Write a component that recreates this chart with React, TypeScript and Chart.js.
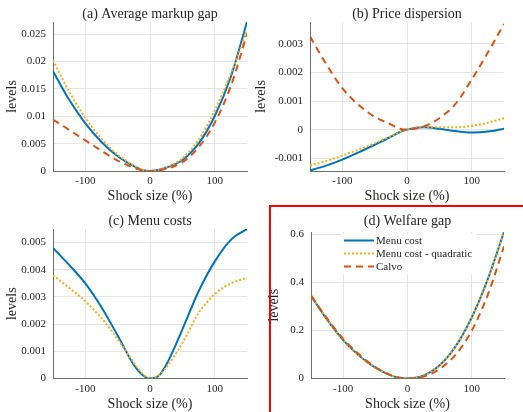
import React, { useEffect, useRef } from "react";
import { Chart, registerables } from "chart.js";

Chart.register(...registerables);

// ---------- data ----------
const shockSizes = [-150, -125, -100, -75, -50, -25, -12.5, 0, 12.5, 25, 50, 75, 100, 125, 150];
const xTicks = [-100, 0, 100];
const xTickLabels = ["-100", "0", "100"];

const seriesNames = ["Menu cost", "Menu cost - quadratic", "Calvo"];

// (a) Average markup gap
const markupMenuCost = [0.0182, 0.013, 0.0087, 0.0053, 0.0027, 0.0009, 0.0002, 0, 0.0002, 0.0006, 0.002, 0.005, 0.01, 0.0172, 0.0272];
const markupQuadratic = [0.0202, 0.0145, 0.0097, 0.0059, 0.003, 0.001, 0.00025, 0, 0.0002, 0.0007, 0.0023, 0.0057, 0.011, 0.0178, 0.0256];
const markupCalvo = [0.0094, 0.0075, 0.0056, 0.0037, 0.0019, 0.0006, 0.00015, 0, 0.0001, 0.0004, 0.0016, 0.0043, 0.0088, 0.0155, 0.025];
const markupTicks = [0, 0.005, 0.01, 0.015, 0.02, 0.025];
const markupTickLabels = ["0", "0.005", "0.01", "0.015", "0.02", "0.025"];

// (b) Price dispersion
const dispersionMenuCost = [-0.00143, -0.00126, -0.00105, -0.0008, -0.00053, -0.00025, -0.0001, 0, 0.00006, 0.00008, 0.00003, -0.00005, -0.0001, -0.00007, 0.00003];
const dispersionQuadratic = [-0.00126, -0.0011, -0.00091, -0.0007, -0.00048, -0.00023, -0.0001, 0, 0.00007, 0.0001, 0.00008, 0.00008, 0.00013, 0.00024, 0.0004];
const dispersionCalvo = [0.00326, 0.0023, 0.00145, 0.00087, 0.00045, 0.00018, 0.00004, 0, 0.00003, 0.0001, 0.0004, 0.0009, 0.00175, 0.0027, 0.0037];
const dispersionTicks = [-0.001, 0, 0.001, 0.002, 0.003];
const dispersionTickLabels = ["-0.001", "0", "0.001", "0.002", "0.003"];

// (c) Menu costs
const menuCostsMenuCost = [0.0048, 0.00418, 0.0035, 0.00262, 0.00158, 0.0005, 0.00015, 0, 0.00008, 0.0005, 0.0018, 0.0032, 0.0043, 0.0051, 0.0055];
const menuCostsQuadratic = [0.0038, 0.00334, 0.00284, 0.00222, 0.00145, 0.00058, 0.0002, 0, 0.0001, 0.0004, 0.0013, 0.0024, 0.0031, 0.0035, 0.0037];
const menuCostsTicks = [0, 0.001, 0.002, 0.003, 0.004, 0.005];
const menuCostsTickLabels = ["0", "0.001", "0.002", "0.003", "0.004", "0.005"];

// (d) Welfare gap
const welfareMenuCost = [0.345, 0.245, 0.16, 0.095, 0.045, 0.012, 0.003, 0, 0.003, 0.012, 0.055, 0.135, 0.255, 0.415, 0.61];
const welfareQuadratic = [0.345, 0.245, 0.16, 0.095, 0.045, 0.012, 0.003, 0, 0.003, 0.012, 0.055, 0.135, 0.255, 0.415, 0.61];
const welfareCalvo = [0.345, 0.25, 0.165, 0.1, 0.048, 0.013, 0.003, 0, 0.002, 0.008, 0.04, 0.1, 0.2, 0.35, 0.55];
const welfareTicks = [0, 0.2, 0.4, 0.6];
const welfareTickLabels = ["0", "0.2", "0.4", "0.6"];

// ---------- styles ----------
const FONT = "'Liberation Serif', 'Times New Roman', serif";
const TEXT = "#262626";
const GRID = "#e4e4e4";
const AXIS = "#6e6e6e";
const BLUE = "#0072BD";
const YELLOW = "#EDB120";
const RED = "#D95319";

type Series = { label: string; values: number[]; color: string; dash: number[]; order: number };
type Spec = {
  title: string;
  left: number;
  top: number;
  w: number;
  h: number;
  area: { left: number; right: number; top: number; bottom: number };
  titleCenter: number;
  yTitleCenter: number;
  xTitleCenter: number;
  yMin: number;
  yMax: number;
  yTicks: number[];
  yTickLabels: string[];
  series: Series[];
};

const blue = (values: number[]): Series => ({ label: seriesNames[0], values, color: BLUE, dash: [], order: 3 });
const yellow = (values: number[]): Series => ({ label: seriesNames[1], values, color: YELLOW, dash: [2, 2], order: 2 });
const red = (values: number[]): Series => ({ label: seriesNames[2], values, color: RED, dash: [7, 5], order: 1 });

const panels: Spec[] = [
  {
    title: "(a) Average markup gap",
    left: 0, top: 0, w: 262, h: 205,
    area: { left: 53, right: 247, top: 22, bottom: 171 },
    titleCenter: 14, yTitleCenter: 12, xTitleCenter: 196,
    yMin: 0, yMax: 0.0272, yTicks: markupTicks, yTickLabels: markupTickLabels,
    series: [blue(markupMenuCost), yellow(markupQuadratic), red(markupCalvo)],
  },
  {
    title: "(b) Price dispersion",
    left: 250, top: 0, w: 273, h: 205,
    area: { left: 60, right: 254, top: 22, bottom: 171 },
    titleCenter: 14, yTitleCenter: 11.5, xTitleCenter: 196,
    yMin: -0.00145, yMax: 0.00377, yTicks: dispersionTicks, yTickLabels: dispersionTickLabels,
    series: [blue(dispersionMenuCost), yellow(dispersionQuadratic), red(dispersionCalvo)],
  },
  {
    title: "(c) Menu costs",
    left: 0, top: 205, w: 262, h: 207,
    area: { left: 53, right: 247, top: 24, bottom: 173.5 },
    titleCenter: 16, yTitleCenter: 12, xTitleCenter: 199,
    yMin: 0, yMax: 0.0055, yTicks: menuCostsTicks, yTickLabels: menuCostsTickLabels,
    series: [blue(menuCostsMenuCost), yellow(menuCostsQuadratic)],
  },
  {
    title: "(d) Welfare gap",
    left: 262, top: 205, w: 261, h: 207,
    area: { left: 49, right: 242, top: 27, bottom: 173.5 },
    titleCenter: 16.7, yTitleCenter: 12, xTitleCenter: 199,
    yMin: 0, yMax: 0.61, yTicks: welfareTicks, yTickLabels: welfareTickLabels,
    series: [blue(welfareMenuCost), yellow(welfareQuadratic), red(welfareCalvo)],
  },
];

function Panel({ spec }: { spec: Spec }) {
  const ref = useRef<HTMLCanvasElement | null>(null);
  useEffect(() => {
    if (!ref.current) return;
    const s = spec;
    const titlePadTop = s.titleCenter - 7;
    const titlePadBottom = Math.max(0, s.area.top - titlePadTop - 14);
    const chart = new Chart(ref.current, {
      type: "line",
      data: {
        datasets: s.series.map((se) => ({
          label: se.label,
          data: shockSizes.map((x, i) => ({ x, y: se.values[i] })),
          borderColor: se.color,
          backgroundColor: se.color,
          borderWidth: 2,
          borderDash: se.dash,
          borderCapStyle: "butt",
          pointRadius: 0,
          pointHoverRadius: 0,
          cubicInterpolationMode: "monotone",
          fill: false,
          order: se.order,
        })),
      },
      options: {
        responsive: false,
        animation: false,
        devicePixelRatio: 1,
        events: [],
        layout: { padding: { left: 0, top: 0, bottom: 0, right: s.w - s.area.right } },
        plugins: {
          legend: { display: false },
          tooltip: { enabled: false },
          title: {
            display: true,
            text: s.title,
            fullSize: false,
            color: TEXT,
            font: { family: FONT, size: 14, weight: "normal", lineHeight: 1 },
            padding: { top: titlePadTop, bottom: titlePadBottom },
          },
        },
        scales: {
          x: {
            type: "linear",
            min: -150,
            max: 150,
            afterBuildTicks: (sc: any) => {
              sc.ticks = xTicks.map((v) => ({ value: v }));
            },
            afterFit: (sc: any) => {
              sc.height = s.h - s.area.bottom;
            },
            ticks: {
              autoSkip: false,
              maxRotation: 0,
              padding: 4,
              color: TEXT,
              font: { family: FONT, size: 11 },
              callback: (v: any) => {
                const i = xTicks.indexOf(Number(v));
                return i >= 0 ? xTickLabels[i] : "";
              },
            },
            grid: { color: GRID, drawTicks: false, lineWidth: 1 },
            border: { display: true, color: AXIS, width: 1 },
            title: {
              display: true,
              text: "Shock size (%)",
              color: TEXT,
              font: { family: FONT, size: 14, lineHeight: 1 },
              padding: { top: 0, bottom: s.h - s.xTitleCenter - 7 },
            },
          },
          y: {
            type: "linear",
            min: s.yMin,
            max: s.yMax,
            afterBuildTicks: (sc: any) => {
              sc.ticks = s.yTicks.map((v) => ({ value: v }));
            },
            afterFit: (sc: any) => {
              sc.width = s.area.left;
            },
            ticks: {
              autoSkip: false,
              padding: 7,
              color: TEXT,
              font: { family: FONT, size: 11 },
              callback: (v: any) => {
                const i = s.yTicks.indexOf(Number(v));
                return i >= 0 ? s.yTickLabels[i] : "";
              },
            },
            grid: { color: GRID, drawTicks: false, lineWidth: 1 },
            border: { display: true, color: AXIS, width: 1 },
            title: {
              display: true,
              text: "levels",
              color: TEXT,
              font: { family: FONT, size: 14, lineHeight: 1 },
              padding: { top: s.yTitleCenter - 7, bottom: 0 },
            },
          },
        },
      } as any,
    });
    return () => chart.destroy();
  }, [spec]);
  return (
    <canvas
      ref={ref}
      width={spec.w}
      height={spec.h}
      style={{ position: "absolute", left: spec.left, top: spec.top, width: spec.w, height: spec.h }}
    />
  );
}

function LegendRow({ label, color, dash, top }: { label: string; color: string; dash: string; top: number }) {
  return (
    <div style={{ position: "absolute", left: 0, top, height: 13, width: 140, display: "flex", alignItems: "center" }}>
      <svg width={32} height={13} style={{ display: "block" }}>
        <line x1={2} y1={6.5} x2={32} y2={6.5} stroke={color} strokeWidth={2} strokeDasharray={dash} />
      </svg>
      <span style={{ marginLeft: 2, fontFamily: FONT, fontSize: 11, color: TEXT, lineHeight: "13px", whiteSpace: "nowrap" }}>
        {label}
      </span>
    </div>
  );
}

export default function App() {
  return (
    <div
      style={{
        position: "fixed",
        left: 0,
        top: 0,
        width: 523,
        height: 412,
        overflow: "hidden",
        background: "#ffffff",
      }}
    >
      {panels.map((p) => (
        <Panel key={p.title} spec={p} />
      ))}
      <div
        style={{
          position: "absolute",
          left: 269,
          top: 205,
          width: 300,
          height: 300,
          border: "2px solid #ff0000",
          boxSizing: "border-box",
          pointerEvents: "none",
        }}
      />
      <div style={{ position: "absolute", left: 342, top: 234, width: 134, height: 40, background: "#ffffff" }}>
        <LegendRow label={seriesNames[0]} color={BLUE} dash="" top={0} />
        <LegendRow label={seriesNames[1]} color={YELLOW} dash="2 2" top={13} />
        <LegendRow label={seriesNames[2]} color={RED} dash="7 5" top={26} />
      </div>
    </div>
  );
}
